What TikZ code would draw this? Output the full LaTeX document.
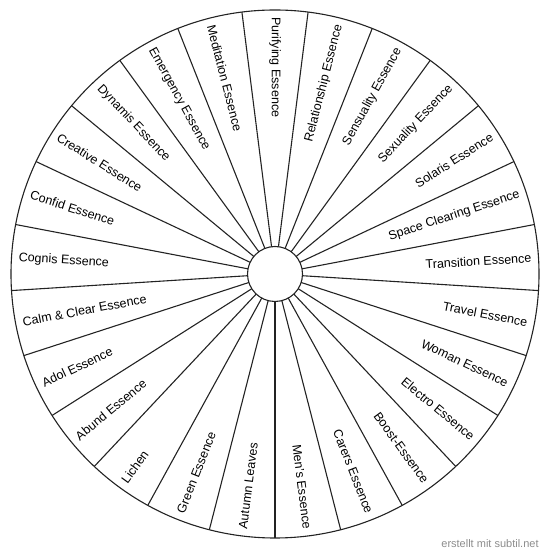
\documentclass[tikz,border=0pt]{standalone}
\usepackage{fontspec}
\setmainfont{Liberation Sans}
\usepackage{xcolor}
\usepackage{tikz}
\usetikzlibrary{calc}
\definecolor{wheelLine}{RGB}{35,35,35}
\definecolor{creditGrey}{RGB}{140,140,140}

\begin{document}
\begin{tikzpicture}[x=1bp, y=1bp,
    spoke/.style={wheelLine, line width=1.1bp},
    essence/.style={font=\fontsize{12.5bp}{15bp}\selectfont, inner sep=0pt}]
    \useasboundingbox (0,0) rectangle (550,560);
    \coordinate (c) at (275,286);
    \draw[spoke] (c) circle (264);
    \node[spoke, draw, circle, minimum size=55bp, inner sep=0pt] (hub) at (c) {};
    \foreach \k in {0,...,24} {
        \pgfmathsetmacro{\a}{97.2-14.4*\k}
        \draw[spoke] ($(c)+(\a:27.5)$) -- ($(c)+(\a:264)$);
    }
    \foreach \name [count=\i from 0] in {Purifying Essence, Relationship Essence,
        Sensuality Essence, Sexuality Essence, Solaris Essence, Space Clearing Essence,
        Transition Essence, Travel Essence, Woman Essence, Electro Essence,
        Boost-Essence, Carers Essence, Men's Essence, Autumn Leaves, Green Essence,
        Lichen, Abund Essence, Adol Essence, Calm \& Clear Essence, Cognis Essence,
        Confid Essence, Creative Essence, Dynamis Essence, Emergency Essence,
        Meditation Essence} {
        \pgfmathsetmacro{\a}{90-14.4*\i}
        \ifnum\i>0 \ifnum\i<13
            \node[essence, anchor=east, rotate=\a] (lab\i) at ($(c)+(\a:257)$) {\name};
        \else
            \node[essence, anchor=west, rotate=\a+180] (lab\i) at ($(c)+(\a:257)$) {\name};
        \fi \else
            \node[essence, anchor=west, rotate=\a+180] (lab\i) at ($(c)+(\a:257)$) {\name};
        \fi
    }
    \node[creditGrey, font=\fontsize{11bp}{13bp}\selectfont] (credit) at (490,16) {erstellt mit subtil.net};
\end{tikzpicture}
\end{document}
